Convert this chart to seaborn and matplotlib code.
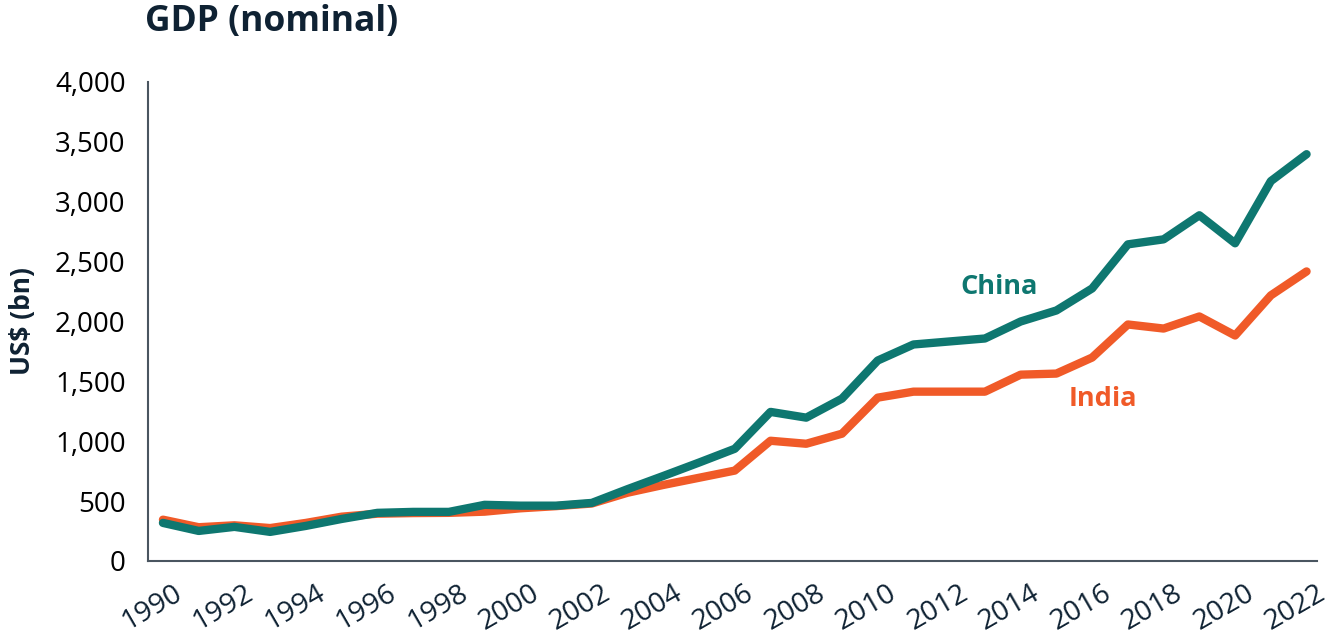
import matplotlib.pyplot as plt
import matplotlib.transforms as mtransforms
import pandas as pd
import seaborn as sns
from matplotlib.ticker import FuncFormatter

# Data (US$ bn)
years = list(range(1990, 2023))
china = [318, 251, 285, 243, 293, 351, 402, 410, 410, 469, 462, 462, 485,
         600, 710, 822, 937, 1245, 1197, 1356, 1674, 1808, 1833, 1858,
         2000, 2092, 2276, 2644, 2686, 2887, 2653, 3172, 3397]
india = [345, 282, 298, 275, 318, 370, 395, 400, 402, 412, 440, 458, 480,
         570, 635, 695, 755, 1004, 979, 1063, 1364, 1414, 1414, 1414,
         1556, 1565, 1699, 1975, 1941, 2042, 1883, 2218, 2418]
xticks = list(range(1990, 2023, 2))

teal = '#0e7770'
orange = '#f05a28'
navy = '#0f2233'

df = pd.DataFrame({'year': years, 'China': china, 'India': india})

sns.set_style('white')
plt.rcParams['font.family'] = ['Open Sans', 'DejaVu Sans']

fig = plt.figure(figsize=(13.28, 6.38), dpi=100)
ax = fig.add_axes([0.1114, 0.1207, 0.880, 0.7508])

# orange first so teal sits on top where they overlap
sns.lineplot(data=df, x='year', y='India', color=orange, linewidth=6, ax=ax)
sns.lineplot(data=df, x='year', y='China', color=teal, linewidth=6, ax=ax)
for l in ax.lines:
    l.set_solid_capstyle('round')

ax.set_xlim(1989.58, 2022.28)
ax.set_ylim(0, 4000)
ax.set_xticks(xticks)
ax.set_yticks(range(0, 4001, 500))
ax.yaxis.set_major_formatter(FuncFormatter(lambda v, p: f'{int(v):,}'))
ax.tick_params(axis='x', length=0, labelsize=20.5, colors=navy, pad=13)
ax.tick_params(axis='y', length=0, labelsize=20, colors='black', pad=16)
shift = mtransforms.ScaledTranslation(0.10, 0, fig.dpi_scale_trans)
for lab in ax.get_xticklabels():
    lab.set_rotation(30)
    lab.set_ha('right')
    lab.set_rotation_mode('anchor')
    lab.set_transform(lab.get_transform() + shift)

ax.set_xlabel('')
ax.set_ylabel('US$ (bn)', fontsize=19, fontweight='bold', color=navy, labelpad=14)

sns.despine(ax=ax)
for s in ['left', 'bottom']:
    ax.spines[s].set_color('#4a5560')
    ax.spines[s].set_linewidth(1.5)

ax.text(2013.4, 2290, 'China', color=teal, fontsize=19.5, fontweight='bold', ha='center', va='center')
ax.text(2016.3, 1350, 'India', color=orange, fontsize=19.5, fontweight='bold', ha='center', va='center')

fig.text(0.109, 0.965, 'GDP (nominal)', fontsize=25.5, fontweight='bold', color=navy, ha='left', va='center')

fig.savefig('out.png', dpi=100)
